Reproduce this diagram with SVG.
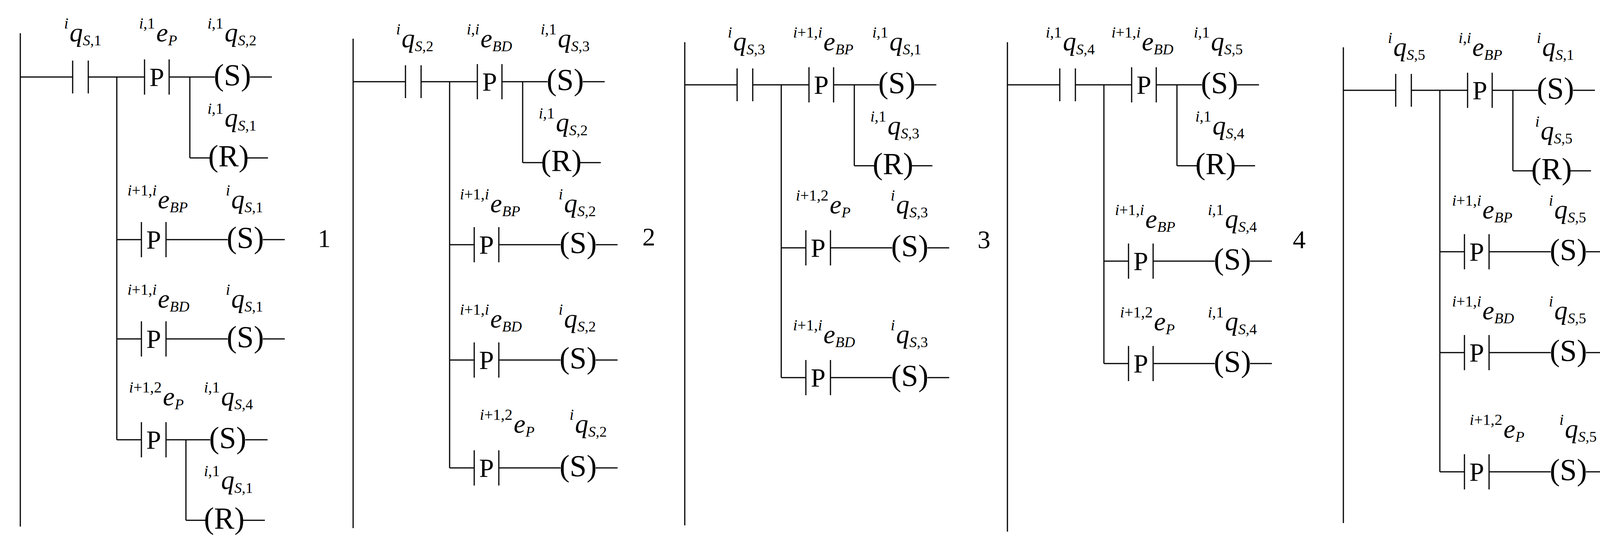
<svg xmlns="http://www.w3.org/2000/svg" xmlns:xlink="http://www.w3.org/1999/xlink" width="4233" height="1407" viewBox="0 0 4233 1407" font-family="'Liberation Serif', 'Times New Roman', serif">
<style>
text{font-family:'Liberation Serif','Times New Roman',serif;fill:#000}
.sup{font-size:40px;font-style:normal}
.m{font-size:68px;font-style:italic}
.sb{font-size:38px;font-style:normal}
.it{font-style:italic}
.c{font-size:78px;text-anchor:middle}
.pt{font-size:68px;text-anchor:middle}
.n{font-size:66px;text-anchor:middle}
line{stroke:#000;stroke-width:3}
</style>
<defs>
<g id="no"><line x1="0" y1="-42" x2="0" y2="42"/><line x1="40" y1="-42" x2="40" y2="42"/></g>
<g id="pc"><line x1="0" y1="-45" x2="0" y2="45"/><line x1="63" y1="-45" x2="63" y2="45"/><text class="pt" x="31.5" y="23">P</text></g>
</defs>
<g id="connectors">
<line x1="52" y1="85" x2="52" y2="1347"/>
<line x1="52" y1="197" x2="186" y2="197"/><line x1="226" y1="197" x2="370" y2="197"/><line x1="433" y1="197" x2="550" y2="197"/><line x1="640" y1="197" x2="696" y2="197"/>
<line x1="486" y1="197" x2="486" y2="404"/><line x1="486" y1="404" x2="540" y2="404"/><line x1="630" y1="404" x2="686" y2="404"/>
<line x1="299" y1="197" x2="299" y2="1125"/>
<line x1="299" y1="613" x2="362" y2="613"/><line x1="425" y1="613" x2="583" y2="613"/><line x1="673" y1="613" x2="729" y2="613"/>
<line x1="299" y1="867" x2="362" y2="867"/><line x1="425" y1="867" x2="583" y2="867"/><line x1="673" y1="867" x2="729" y2="867"/>
<line x1="299" y1="1125" x2="362" y2="1125"/><line x1="425" y1="1125" x2="538" y2="1125"/><line x1="628" y1="1125" x2="685" y2="1125"/>
<line x1="476" y1="1125" x2="476" y2="1331"/><line x1="476" y1="1331" x2="529" y2="1331"/><line x1="619" y1="1331" x2="678" y2="1331"/>
<line x1="904" y1="99" x2="904" y2="1351"/>
<line x1="904" y1="209" x2="1038" y2="209"/><line x1="1078" y1="209" x2="1222" y2="209"/><line x1="1285" y1="209" x2="1402" y2="209"/><line x1="1492" y1="209" x2="1548" y2="209"/>
<line x1="1338" y1="209" x2="1338" y2="416"/><line x1="1338" y1="416" x2="1392" y2="416"/><line x1="1482" y1="416" x2="1538" y2="416"/>
<line x1="1151" y1="209" x2="1151" y2="1197"/>
<line x1="1151" y1="626" x2="1214" y2="626"/><line x1="1277" y1="626" x2="1435" y2="626"/><line x1="1525" y1="626" x2="1581" y2="626"/>
<line x1="1151" y1="921" x2="1214" y2="921"/><line x1="1277" y1="921" x2="1435" y2="921"/><line x1="1525" y1="921" x2="1581" y2="921"/>
<line x1="1151" y1="1197" x2="1214" y2="1197"/><line x1="1277" y1="1197" x2="1435" y2="1197"/><line x1="1525" y1="1197" x2="1581" y2="1197"/>
<line x1="1753" y1="108" x2="1753" y2="1344"/>
<line x1="1753" y1="217" x2="1887" y2="217"/><line x1="1927" y1="217" x2="2071" y2="217"/><line x1="2134" y1="217" x2="2251" y2="217"/><line x1="2341" y1="217" x2="2397" y2="217"/>
<line x1="2187" y1="217" x2="2187" y2="424"/><line x1="2187" y1="424" x2="2241" y2="424"/><line x1="2331" y1="424" x2="2387" y2="424"/>
<line x1="2000" y1="217" x2="2000" y2="966"/>
<line x1="2000" y1="634" x2="2063" y2="634"/><line x1="2126" y1="634" x2="2284" y2="634"/><line x1="2374" y1="634" x2="2430" y2="634"/>
<line x1="2000" y1="966" x2="2063" y2="966"/><line x1="2126" y1="966" x2="2284" y2="966"/><line x1="2374" y1="966" x2="2430" y2="966"/>
<line x1="2579" y1="108" x2="2579" y2="1360"/>
<line x1="2579" y1="217" x2="2713" y2="217"/><line x1="2753" y1="217" x2="2897" y2="217"/><line x1="2960" y1="217" x2="3077" y2="217"/><line x1="3167" y1="217" x2="3223" y2="217"/>
<line x1="3013" y1="217" x2="3013" y2="424"/><line x1="3013" y1="424" x2="3067" y2="424"/><line x1="3157" y1="424" x2="3213" y2="424"/>
<line x1="2826" y1="217" x2="2826" y2="930"/>
<line x1="2826" y1="668" x2="2889" y2="668"/><line x1="2952" y1="668" x2="3110" y2="668"/><line x1="3200" y1="668" x2="3256" y2="668"/>
<line x1="2826" y1="930" x2="2889" y2="930"/><line x1="2952" y1="930" x2="3110" y2="930"/><line x1="3200" y1="930" x2="3256" y2="930"/>
<line x1="3439" y1="121" x2="3439" y2="1338"/>
<line x1="3439" y1="231" x2="3573" y2="231"/><line x1="3613" y1="231" x2="3757" y2="231"/><line x1="3820" y1="231" x2="3937" y2="231"/><line x1="4027" y1="231" x2="4083" y2="231"/>
<line x1="3873" y1="231" x2="3873" y2="437"/><line x1="3873" y1="437" x2="3927" y2="437"/><line x1="4017" y1="437" x2="4073" y2="437"/>
<line x1="3686" y1="231" x2="3686" y2="1207"/>
<line x1="3686" y1="644" x2="3749" y2="644"/><line x1="3812" y1="644" x2="3970" y2="644"/><line x1="4060" y1="644" x2="4116" y2="644"/>
<line x1="3686" y1="902" x2="3749" y2="902"/><line x1="3812" y1="902" x2="3970" y2="902"/><line x1="4060" y1="902" x2="4116" y2="902"/>
<line x1="3686" y1="1207" x2="3749" y2="1207"/><line x1="3812" y1="1207" x2="3970" y2="1207"/><line x1="4060" y1="1207" x2="4116" y2="1207"/>
</g>

<g id="p1-contact"><use xlink:href="#no" x="186" y="197"/><text class="sup" x="175" y="73" text-anchor="end"><tspan class="it">i</tspan></text><text class="m" x="178" y="106">q<tspan class="sb" dy="10"><tspan class="it">S</tspan>,1</tspan></text></g>
<g id="p1-p"><use xlink:href="#pc" x="370" y="197"/><text class="sup" x="397" y="73" text-anchor="end"><tspan class="it">i</tspan>,1</text><text class="m" x="400" y="106">e<tspan class="sb it" dy="10">P</tspan></text></g>
<g id="p1-s"><text class="c" x="595" y="218">(S)</text><text class="sup" x="572" y="73" text-anchor="end"><tspan class="it">i</tspan>,1</text><text class="m" x="575" y="106">q<tspan class="sb" dy="10"><tspan class="it">S</tspan>,2</tspan></text></g>
<g id="p1-r"><text class="c" x="585" y="425">(R)</text><text class="sup" x="572" y="291" text-anchor="end"><tspan class="it">i</tspan>,1</text><text class="m" x="575" y="324">q<tspan class="sb" dy="10"><tspan class="it">S</tspan>,1</tspan></text></g>
<g id="p1-r2p"><use xlink:href="#pc" x="362" y="613"/><text class="sup" x="401" y="500" text-anchor="end"><tspan class="it">i</tspan>+1,<tspan class="it">i</tspan></text><text class="m" x="404" y="533">e<tspan class="sb it" dy="10">BP</tspan></text></g>
<g id="p1-r2s"><text class="c" x="628" y="634">(S)</text><text class="sup" x="589" y="500" text-anchor="end"><tspan class="it">i</tspan></text><text class="m" x="592" y="533">q<tspan class="sb" dy="10"><tspan class="it">S</tspan>,1</tspan></text></g>
<g id="p1-r3p"><use xlink:href="#pc" x="362" y="867"/><text class="sup" x="401" y="754" text-anchor="end"><tspan class="it">i</tspan>+1,<tspan class="it">i</tspan></text><text class="m" x="404" y="787">e<tspan class="sb it" dy="10">BD</tspan></text></g>
<g id="p1-r3s"><text class="c" x="628" y="888">(S)</text><text class="sup" x="589" y="754" text-anchor="end"><tspan class="it">i</tspan></text><text class="m" x="592" y="787">q<tspan class="sb" dy="10"><tspan class="it">S</tspan>,1</tspan></text></g>
<g id="p1-r4p"><use xlink:href="#pc" x="362" y="1125"/><text class="sup" x="414" y="1004" text-anchor="end"><tspan class="it">i</tspan>+1,2</text><text class="m" x="417" y="1037">e<tspan class="sb it" dy="10">P</tspan></text></g>
<g id="p1-r4s"><text class="c" x="583" y="1146">(S)</text><text class="sup" x="563" y="1004" text-anchor="end"><tspan class="it">i</tspan>,1</text><text class="m" x="566" y="1037">q<tspan class="sb" dy="10"><tspan class="it">S</tspan>,4</tspan></text></g>
<g id="p1-r4r"><text class="c" x="574" y="1352">(R)</text><text class="sup" x="563" y="1218" text-anchor="end"><tspan class="it">i</tspan>,1</text><text class="m" x="566" y="1251">q<tspan class="sb" dy="10"><tspan class="it">S</tspan>,1</tspan></text></g>
<text id="n1" class="n" x="830" y="632">1</text>

<g id="p2-contact"><use xlink:href="#no" x="1038" y="209"/><text class="sup" x="1025" y="88" text-anchor="end"><tspan class="it">i</tspan></text><text class="m" x="1028" y="121">q<tspan class="sb" dy="10"><tspan class="it">S</tspan>,2</tspan></text></g>
<g id="p2-p"><use xlink:href="#pc" x="1222" y="209"/><text class="sup" x="1227" y="88" text-anchor="end"><tspan class="it">i</tspan>,<tspan class="it">i</tspan></text><text class="m" x="1230" y="121">e<tspan class="sb it" dy="10">BD</tspan></text></g>
<g id="p2-s"><text class="c" x="1447" y="230">(S)</text><text class="sup" x="1425" y="88" text-anchor="end"><tspan class="it">i</tspan>,1</text><text class="m" x="1428" y="121">q<tspan class="sb" dy="10"><tspan class="it">S</tspan>,3</tspan></text></g>
<g id="p2-r"><text class="c" x="1437" y="437">(R)</text><text class="sup" x="1420" y="303" text-anchor="end"><tspan class="it">i</tspan>,1</text><text class="m" x="1423" y="336">q<tspan class="sb" dy="10"><tspan class="it">S</tspan>,2</tspan></text></g>
<g id="p2-r2p"><use xlink:href="#pc" x="1214" y="626"/><text class="sup" x="1252" y="510" text-anchor="end"><tspan class="it">i</tspan>+1,<tspan class="it">i</tspan></text><text class="m" x="1255" y="543">e<tspan class="sb it" dy="10">BP</tspan></text></g>
<g id="p2-r2s"><text class="c" x="1480" y="647">(S)</text><text class="sup" x="1441" y="510" text-anchor="end"><tspan class="it">i</tspan></text><text class="m" x="1444" y="543">q<tspan class="sb" dy="10"><tspan class="it">S</tspan>,2</tspan></text></g>
<g id="p2-r3p"><use xlink:href="#pc" x="1214" y="921"/><text class="sup" x="1252" y="805" text-anchor="end"><tspan class="it">i</tspan>+1,<tspan class="it">i</tspan></text><text class="m" x="1255" y="838">e<tspan class="sb it" dy="10">BD</tspan></text></g>
<g id="p2-r3s"><text class="c" x="1480" y="942">(S)</text><text class="sup" x="1441" y="805" text-anchor="end"><tspan class="it">i</tspan></text><text class="m" x="1444" y="838">q<tspan class="sb" dy="10"><tspan class="it">S</tspan>,2</tspan></text></g>
<g id="p2-r4p"><use xlink:href="#pc" x="1214" y="1197"/><text class="sup" x="1312" y="1074" text-anchor="end"><tspan class="it">i</tspan>+1,2</text><text class="m" x="1315" y="1107">e<tspan class="sb it" dy="10">P</tspan></text></g>
<g id="p2-r4s"><text class="c" x="1480" y="1218">(S)</text><text class="sup" x="1469" y="1074" text-anchor="end"><tspan class="it">i</tspan></text><text class="m" x="1472" y="1107">q<tspan class="sb" dy="10"><tspan class="it">S</tspan>,2</tspan></text></g>
<text id="n2" class="n" x="1661" y="628">2</text>

<g id="p3-contact"><use xlink:href="#no" x="1887" y="217"/><text class="sup" x="1874" y="96" text-anchor="end"><tspan class="it">i</tspan></text><text class="m" x="1877" y="129">q<tspan class="sb" dy="10"><tspan class="it">S</tspan>,3</tspan></text></g>
<g id="p3-p"><use xlink:href="#pc" x="2071" y="217"/><text class="sup" x="2105" y="96" text-anchor="end"><tspan class="it">i</tspan>+1,<tspan class="it">i</tspan></text><text class="m" x="2108" y="129">e<tspan class="sb it" dy="10">BP</tspan></text></g>
<g id="p3-s"><text class="c" x="2296" y="238">(S)</text><text class="sup" x="2274" y="96" text-anchor="end"><tspan class="it">i</tspan>,1</text><text class="m" x="2277" y="129">q<tspan class="sb" dy="10"><tspan class="it">S</tspan>,1</tspan></text></g>
<g id="p3-r"><text class="c" x="2286" y="445">(R)</text><text class="sup" x="2269" y="311" text-anchor="end"><tspan class="it">i</tspan>,1</text><text class="m" x="2272" y="344">q<tspan class="sb" dy="10"><tspan class="it">S</tspan>,3</tspan></text></g>
<g id="p3-r2p"><use xlink:href="#pc" x="2063" y="634"/><text class="sup" x="2121" y="513" text-anchor="end"><tspan class="it">i</tspan>+1,2</text><text class="m" x="2124" y="546">e<tspan class="sb it" dy="10">P</tspan></text></g>
<g id="p3-r2s"><text class="c" x="2329" y="655">(S)</text><text class="sup" x="2291" y="513" text-anchor="end"><tspan class="it">i</tspan></text><text class="m" x="2294" y="546">q<tspan class="sb" dy="10"><tspan class="it">S</tspan>,3</tspan></text></g>
<g id="p3-r3p"><use xlink:href="#pc" x="2063" y="966"/><text class="sup" x="2105" y="845" text-anchor="end"><tspan class="it">i</tspan>+1,<tspan class="it">i</tspan></text><text class="m" x="2108" y="878">e<tspan class="sb it" dy="10">BD</tspan></text></g>
<g id="p3-r3s"><text class="c" x="2329" y="987">(S)</text><text class="sup" x="2291" y="845" text-anchor="end"><tspan class="it">i</tspan></text><text class="m" x="2294" y="878">q<tspan class="sb" dy="10"><tspan class="it">S</tspan>,3</tspan></text></g>
<text id="n3" class="n" x="2519" y="635">3</text>

<g id="p4-contact"><use xlink:href="#no" x="2713" y="217"/><text class="sup" x="2718" y="96" text-anchor="end"><tspan class="it">i</tspan>,1</text><text class="m" x="2721" y="129">q<tspan class="sb" dy="10"><tspan class="it">S</tspan>,4</tspan></text></g>
<g id="p4-p"><use xlink:href="#pc" x="2897" y="217"/><text class="sup" x="2920" y="96" text-anchor="end"><tspan class="it">i</tspan>+1,<tspan class="it">i</tspan></text><text class="m" x="2923" y="129">e<tspan class="sb it" dy="10">BD</tspan></text></g>
<g id="p4-s"><text class="c" x="3122" y="238">(S)</text><text class="sup" x="3097" y="96" text-anchor="end"><tspan class="it">i</tspan>,1</text><text class="m" x="3100" y="129">q<tspan class="sb" dy="10"><tspan class="it">S</tspan>,5</tspan></text></g>
<g id="p4-r"><text class="c" x="3112" y="445">(R)</text><text class="sup" x="3101" y="311" text-anchor="end"><tspan class="it">i</tspan>,1</text><text class="m" x="3104" y="344">q<tspan class="sb" dy="10"><tspan class="it">S</tspan>,4</tspan></text></g>
<g id="p4-r2p"><use xlink:href="#pc" x="2889" y="668"/><text class="sup" x="2929" y="550" text-anchor="end"><tspan class="it">i</tspan>+1,<tspan class="it">i</tspan></text><text class="m" x="2932" y="583">e<tspan class="sb it" dy="10">BP</tspan></text></g>
<g id="p4-r2s"><text class="c" x="3155" y="689">(S)</text><text class="sup" x="3133" y="550" text-anchor="end"><tspan class="it">i</tspan>,1</text><text class="m" x="3136" y="583">q<tspan class="sb" dy="10"><tspan class="it">S</tspan>,4</tspan></text></g>
<g id="p4-r3p"><use xlink:href="#pc" x="2889" y="930"/><text class="sup" x="2951" y="812" text-anchor="end"><tspan class="it">i</tspan>+1,2</text><text class="m" x="2954" y="845">e<tspan class="sb it" dy="10">P</tspan></text></g>
<g id="p4-r3s"><text class="c" x="3155" y="951">(S)</text><text class="sup" x="3133" y="812" text-anchor="end"><tspan class="it">i</tspan>,1</text><text class="m" x="3136" y="845">q<tspan class="sb" dy="10"><tspan class="it">S</tspan>,4</tspan></text></g>
<text id="n4" class="n" x="3326" y="635">4</text>

<g id="p5-contact"><use xlink:href="#no" x="3573" y="231"/><text class="sup" x="3564" y="110" text-anchor="end"><tspan class="it">i</tspan></text><text class="m" x="3567" y="143">q<tspan class="sb" dy="10"><tspan class="it">S</tspan>,5</tspan></text></g>
<g id="p5-p"><use xlink:href="#pc" x="3757" y="231"/><text class="sup" x="3766" y="110" text-anchor="end"><tspan class="it">i</tspan>,<tspan class="it">i</tspan></text><text class="m" x="3769" y="143">e<tspan class="sb it" dy="10">BP</tspan></text></g>
<g id="p5-s"><text class="c" x="3982" y="252">(S)</text><text class="sup" x="3945" y="110" text-anchor="end"><tspan class="it">i</tspan></text><text class="m" x="3948" y="143">q<tspan class="sb" dy="10"><tspan class="it">S</tspan>,1</tspan></text></g>
<g id="p5-r"><text class="c" x="3972" y="458">(R)</text><text class="sup" x="3941" y="324" text-anchor="end"><tspan class="it">i</tspan></text><text class="m" x="3944" y="357">q<tspan class="sb" dy="10"><tspan class="it">S</tspan>,5</tspan></text></g>
<g id="p5-r2p"><use xlink:href="#pc" x="3749" y="644"/><text class="sup" x="3792" y="526" text-anchor="end"><tspan class="it">i</tspan>+1,<tspan class="it">i</tspan></text><text class="m" x="3795" y="559">e<tspan class="sb it" dy="10">BP</tspan></text></g>
<g id="p5-r2s"><text class="c" x="4015" y="665">(S)</text><text class="sup" x="3976" y="526" text-anchor="end"><tspan class="it">i</tspan></text><text class="m" x="3979" y="559">q<tspan class="sb" dy="10"><tspan class="it">S</tspan>,5</tspan></text></g>
<g id="p5-r3p"><use xlink:href="#pc" x="3749" y="902"/><text class="sup" x="3792" y="784" text-anchor="end"><tspan class="it">i</tspan>+1,<tspan class="it">i</tspan></text><text class="m" x="3795" y="817">e<tspan class="sb it" dy="10">BD</tspan></text></g>
<g id="p5-r3s"><text class="c" x="4015" y="923">(S)</text><text class="sup" x="3976" y="784" text-anchor="end"><tspan class="it">i</tspan></text><text class="m" x="3979" y="817">q<tspan class="sb" dy="10"><tspan class="it">S</tspan>,5</tspan></text></g>
<g id="p5-r4p"><use xlink:href="#pc" x="3749" y="1207"/><text class="sup" x="3846" y="1087" text-anchor="end"><tspan class="it">i</tspan>+1,2</text><text class="m" x="3849" y="1120">e<tspan class="sb it" dy="10">P</tspan></text></g>
<g id="p5-r4s"><text class="c" x="4015" y="1228">(S)</text><text class="sup" x="4003" y="1087" text-anchor="end"><tspan class="it">i</tspan></text><text class="m" x="4006" y="1120">q<tspan class="sb" dy="10"><tspan class="it">S</tspan>,5</tspan></text></g>
<text id="n5" class="n" x="4175" y="641">5</text>
</svg>
